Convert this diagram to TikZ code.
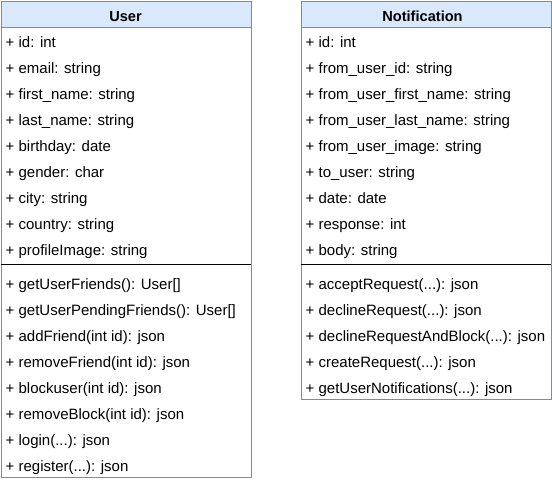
\documentclass[tikz,border=0pt]{standalone}
\usepackage{fontspec}
\setmainfont{Liberation Sans}
\definecolor{umlline}{HTML}{6C8EBF}
\definecolor{umlfill}{HTML}{DAE8FC}
\begin{document}
\begin{tikzpicture}[x=1pt,y=-1pt,
  classbox/.style={draw=umlline, line width=1pt, fill=white, anchor=north west, inner sep=0pt},
  classhdr/.style={draw=umlline, line width=1pt, fill=umlfill, anchor=north west, inner sep=0pt, minimum width=250pt, minimum height=26pt},
  hdrtext/.style={anchor=base, inner sep=0pt, font=\fontsize{14.6}{16}\selectfont\bfseries},
  member/.style={anchor=base west, inner sep=0pt, font=\fontsize{15}{17}\selectfont},
  sepline/.style={draw=black, line width=1pt}
]
\useasboundingbox (0,0) rectangle (552,480);
% ---------- User ----------
\node[classbox, minimum width=250pt, minimum height=476pt] (user) at (0.5,0.5) {};
\node[classhdr] (userhdr) at (0.5,0.5) {};
\node[hdrtext] (usertitle) at (125.5,21) {User};
\node[member] (ua0) at (5.5,47.3) {+ id: int};
\node[member] (ua1) at (5.5,73.3) {+ email: string};
\node[member] (ua2) at (5.5,99.3) {+ first\_name: string};
\node[member] (ua3) at (5.5,125.3) {+ last\_name: string};
\node[member] (ua4) at (5.5,151.3) {+ birthday: date};
\node[member] (ua5) at (5.5,177.3) {+ gender: char};
\node[member] (ua6) at (5.5,203.3) {+ city: string};
\node[member] (ua7) at (5.5,229.3) {+ country: string};
\node[member] (ua8) at (5.5,255.3) {+ profileImage: string};
\coordinate (usepl) at (0.5,264.5);
\coordinate (usepr) at (250.5,264.5);
\draw[sepline] (usepl) -- (usepr);
\node[member] (um0) at (5.5,289.3) {+ getUserFriends(): User[]};
\node[member] (um1) at (5.5,315.3) {+ getUserPendingFriends(): User[]};
\node[member] (um2) at (5.5,341.3) {+ addFriend(int id): json};
\node[member] (um3) at (5.5,367.3) {+ removeFriend(int id): json};
\node[member] (um4) at (5.5,393.3) {+ blockuser(int id): json};
\node[member] (um5) at (5.5,419.3) {+ removeBlock(int id): json};
\node[member] (um6) at (5.5,445.3) {+ login(...): json};
\node[member] (um7) at (5.5,471.3) {+ register(...): json};
% ---------- Notification ----------
\node[classbox, minimum width=250pt, minimum height=398pt] (notif) at (300.5,0.5) {};
\node[classhdr] (notifhdr) at (300.5,0.5) {};
\node[hdrtext] (notiftitle) at (422.5,21) {Notification};
\node[member] (na0) at (305.5,47.3) {+ id: int};
\node[member] (na1) at (305.5,73.3) {+ from\_user\_id: string};
\node[member] (na2) at (305.5,99.3) {+ from\_user\_first\_name: string};
\node[member] (na3) at (305.5,125.3) {+ from\_user\_last\_name: string};
\node[member] (na4) at (305.5,151.3) {+ from\_user\_image: string};
\node[member] (na5) at (305.5,177.3) {+ to\_user: string};
\node[member] (na6) at (305.5,203.3) {+ date: date};
\node[member] (na7) at (305.5,229.3) {+ response: int};
\node[member] (na8) at (305.5,255.3) {+ body: string};
\coordinate (nsepl) at (300.5,264.5);
\coordinate (nsepr) at (550.5,264.5);
\draw[sepline] (nsepl) -- (nsepr);
\node[member] (nm0) at (305.5,289.3) {+ acceptRequest(...): json};
\node[member] (nm1) at (305.5,315.3) {+ declineRequest(...): json};
\node[member] (nm2) at (305.5,341.3) {+ declineRequestAndBlock(...): json};
\node[member] (nm3) at (305.5,367.3) {+ createRequest(...): json};
\node[member] (nm4) at (305.5,393.3) {+ getUserNotifications(...): json};
\end{tikzpicture}
\end{document}
